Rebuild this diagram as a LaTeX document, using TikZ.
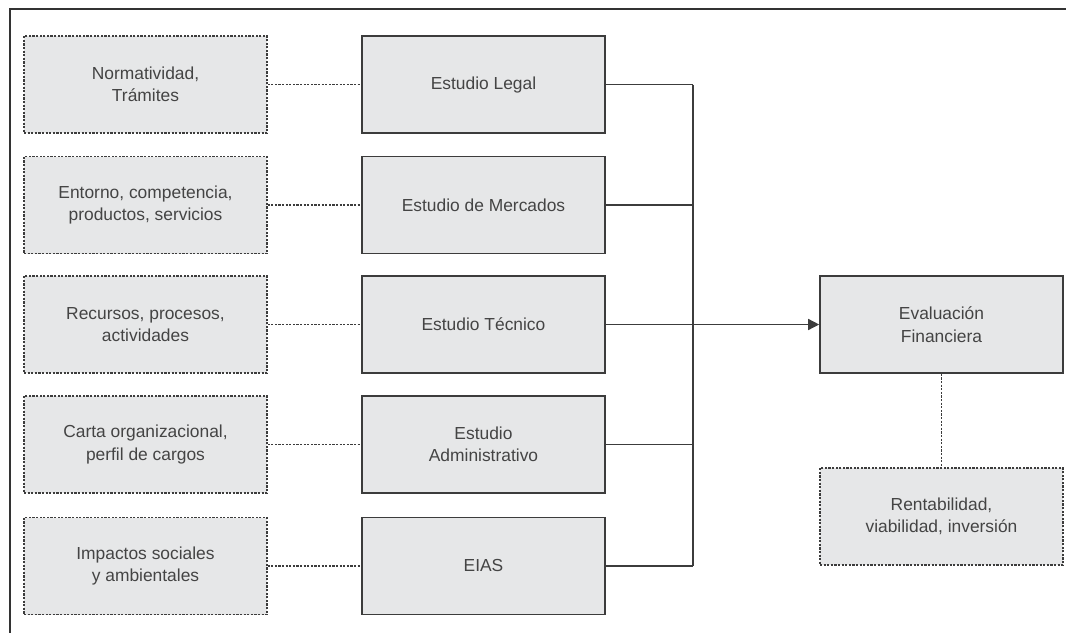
\documentclass[tikz,border=0pt]{standalone}
\usepackage{fontspec}
\setmainfont{Liberation Sans}
\usetikzlibrary{arrows.meta}
\definecolor{boxfill}{HTML}{E6E7E8}
\definecolor{txt}{HTML}{444444}
\definecolor{ln}{HTML}{3C3C3C}
\begin{document}
\begin{tikzpicture}[x=0.5pt,y=-0.5pt,
  base/.style={rectangle,fill=boxfill,minimum width=121.5pt,minimum height=48.5pt,inner sep=0pt,
    align=center,text=txt,font=\fontsize{8.7pt}{11.2pt}\selectfont},
  solidbox/.style={base,draw=ln,line width=0.8pt},
  dotbox/.style={base,draw=ln,line width=0.65pt,dash pattern=on 1.1pt off 0.7pt},
  dotline/.style={draw=ln,line width=0.65pt,dash pattern=on 1.1pt off 0.7pt},
  conn/.style={draw=ln,line width=0.7pt},
  frame/.style={draw=black!80,line width=0.7pt}]
\useasboundingbox (0,0) rectangle (1066,633);
\coordinate (ftl) at (10,9);
\coordinate (ftr) at (1066,9);
\coordinate (fbl) at (10,633);
\draw[frame] (ftr) -- (ftl) -- (fbl);

\node[dotbox] (l1) at (145.5,84.5) {Normatividad,\\Trámites};
\node[dotbox] (l2) at (145.5,205) {Entorno, competencia,\\productos, servicios};
\node[dotbox] (l3) at (145.5,324.5) {Recursos, procesos,\\actividades};
\node[dotbox] (l4) at (145.5,444.5) {Carta organizacional,\\perfil de cargos};
\node[dotbox] (l5) at (145.5,566) {Impactos sociales\\y ambientales};

\node[solidbox] (m1) at (483.5,84.5) {Estudio Legal};
\node[solidbox] (m2) at (483.5,205) {Estudio de Mercados};
\node[solidbox] (m3) at (483.5,324.5) {Estudio Técnico};
\node[solidbox] (m4) at (483.5,444.5) {Estudio\\Administrativo};
\node[solidbox] (m5) at (483.5,566) {EIAS};

\node[solidbox] (ev) at (941.5,324.5) {Evaluación\\Financiera};
\node[dotbox] (re) at (941.5,516.5) {Rentabilidad,\\viabilidad, inversión};

\foreach \i in {1,...,5}{
  \draw[dotline] (l\i.east) -- (m\i.west);
}
\coordinate (bus) at (693,0);
\foreach \i in {1,2,4,5}{
  \draw[conn] (m\i.east) -- (m\i.east -| bus);
}
\draw[conn] (m1.east -| bus) -- (m5.east -| bus);
\draw[conn,-{Triangle[length=5.5pt,width=5.5pt]}] (m3.east) -- (ev.west);
\draw[dotline] (ev.south) -- (re.north);
\end{tikzpicture}
\end{document}
